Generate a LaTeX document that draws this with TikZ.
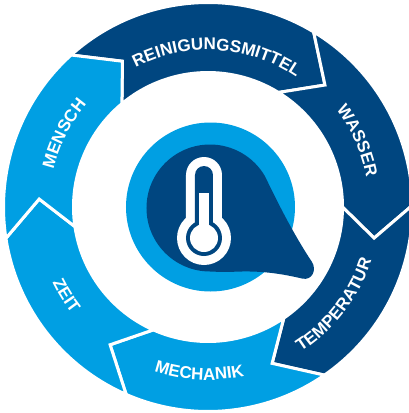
\documentclass[tikz,border=0pt]{standalone}
\usepackage{fontspec}
\setmainfont{Liberation Sans}
\usetikzlibrary{decorations.text}
\definecolor{ringdark}{HTML}{004680}
\definecolor{ringlight}{HTML}{009FE3}
\tikzset{
  segment/.style={draw=white,line width=3pt},
  ringlabel/.style={decorate,decoration={text along path,text align=center,text={|\fontsize{17}{17}\bfseries\color{white}|#1}}}
}
\begin{document}
\begin{tikzpicture}[x=1pt,y=1pt]
      \useasboundingbox (-208,-206) rectangle (200,207);
      \foreach \oa/\ia/\ta/\ob/\ib/\tb/\col in {
        132/129.8/120.4/58.9/58.4/46.2/ringdark,
        58.9/58.4/46.2/0.5/0/-10.6/ringdark,
        0.5/0/-10.6/-55.3/-55.7/-67.7/ringdark,
        -55.3/-55.7/-67.7/-113.6/-114/-125.4/ringlight,
        -113.6/-114/-125.4/-171.2/-171.6/-182.7/ringlight,
        -171.2/-171.6/-182.7/-228/-230.2/-239.6/ringlight}
        \draw[segment,fill=\col] (\oa:204.5) arc (\oa:\ob:204.5pt) -- (\tb:169)
          -- (\ib:134.5) arc (\ib:\ia:134.5pt) -- (\ta:169) -- cycle;
      \path[ringlabel=REINIGUNGSMITTEL] (136.6:157) arc (136.6:36.6:157pt);
      \path[ringlabel=WASSER] (64:161) arc (64:-16:161pt);
      \path[ringlabel=TEMPERATUR] (-87.7:172) arc (-87.7:12.3:172pt);
      \path[ringlabel=MECHANIK] (-143:173) arc (-143:-43:173pt);
      \path[ringlabel=ZEIT] (172:173) arc (172:252:173pt);
      \path[ringlabel=MENSCH] (193:159) arc (193:113:159pt);
      \begin{scope}[xshift=-1pt]
        \fill[ringlight] (3.5,0) circle (84.5);
        \fill[ringdark] (3,-64.5) arc (270:30:63.5pt)
          .. controls (68,10) and (85,-25) .. (105,-55)
          .. controls (110,-63) and (105,-74) .. (95,-71.5)
          .. controls (80,-68) and (60,-64) .. (35,-64.5)
          .. controls (22,-65) and (12,-65) .. (3,-64.5) -- cycle;
        \fill[white] (-21,-31) -- (-21,32) arc (180:0:18pt) -- (15,-31) -- cycle;
        \fill[white] (-3,-31) circle (27);
        \fill[ringdark] (-12,-31) -- (-12,32) arc (180:0:9pt) -- (6,-31) -- cycle;
        \fill[ringdark] (-3,-31) circle (18);
        \fill[white] (-3,-31) circle (14);
        \fill[white] (-8,-25) rectangle (2,14);
      \end{scope}
    \end{tikzpicture}
\end{document}
